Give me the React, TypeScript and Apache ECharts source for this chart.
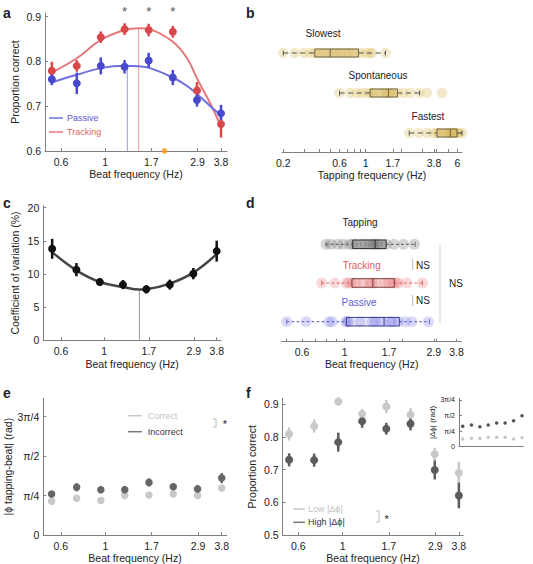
import React, { useEffect, useRef } from 'react';
import * as echarts from 'echarts';

const FONT = '"Liberation Sans", Arial, Helvetica, sans-serif';
const AX = '#808080';
const TXT = '#222';

// ---------- shared ----------
const beatFreqs = [0.54, 0.72, 0.95, 1.25, 1.65, 2.18, 2.88, 3.8];
const beatTickLabels = [0.6, 1, 1.7, 2.9, 3.8];

// ---------- panel a ----------
const passiveMean = [0.760, 0.751, 0.790, 0.788, 0.802, 0.764, 0.714, 0.684];
const passiveErr = [0.013, 0.024, 0.019, 0.015, 0.017, 0.017, 0.015, 0.019];
const trackingMean = [0.779, 0.790, 0.854, 0.872, 0.870, 0.866, 0.735, 0.660];
const trackingErr = [0.020, 0.013, 0.013, 0.013, 0.014, 0.013, 0.019, 0.030];
const fitFreqsA = [0.54, 0.72, 0.95, 1.25, 1.47, 1.65, 2.18, 2.57, 2.88, 3.36, 3.8];
const trackingFit = [0.775, 0.807, 0.848, 0.870, 0.874, 0.872, 0.844, 0.807, 0.762, 0.706, 0.654];
const passiveFit = [0.753, 0.770, 0.785, 0.790, 0.789, 0.786, 0.764, 0.745, 0.727, 0.700, 0.680];
const passivePeak = [1.29, 0.789];
const trackingPeak = [1.47, 0.874];
const orangeMarkFreq = 1.98;
const starFreqs = [1.25, 1.65, 2.18];

// ---------- panel b ----------
const tapRowNames = ['Fastest', 'Spontaneous', 'Slowest'];
// [min, q1, median, q3, max] in Hz
const tapBoxes = [
  [2.34, 4.03, 5.22, 5.95, 6.56],
  [0.60, 1.09, 1.56, 1.86, 2.87],
  [0.20, 0.37, 0.50, 0.87, 1.47],
];
const fastestTaps = [2.34, 2.81, 3.31, 3.77, 4.05, 4.15, 4.58, 4.9, 5.05, 5.22, 5.4, 5.57, 5.8, 5.95, 6.2, 6.56];
const spontaneousTaps = [0.60, 0.74, 0.84, 0.93, 1.03, 1.10, 1.17, 1.33, 1.45, 1.52, 1.60, 1.67, 1.84, 2.10, 2.39, 2.87, 3.31, 4.44];
const slowestTaps = [0.20, 0.25, 0.30, 0.34, 0.37, 0.40, 0.44, 0.48, 0.52, 0.57, 0.61, 0.68, 0.72, 0.80, 0.90, 1.0, 1.08, 1.13, 1.47];
const tapTickLabels = [0.2, 0.6, 1, 1.7, 3.8, 6];
const tapTickMarks = [0.2, 0.3, 0.4, 0.5, 0.6, 0.7, 0.8, 0.9, 1, 1.7, 2, 3, 3.8, 4, 5, 6];

// ---------- panel c ----------
const cvMean = [13.8, 10.65, 8.8, 8.4, 7.7, 8.4, 10.05, 13.45];
const cvErr = [1.5, 1.0, 0.55, 0.68, 0.62, 0.75, 0.85, 1.58];
const cvFitFreqs = [0.54, 0.72, 0.95, 1.25, 1.52, 1.65, 2.18, 2.88, 3.8];
const cvFit = [13.3, 10.55, 8.8, 8.05, 7.65, 7.7, 8.55, 10.2, 13.0];
const cvMin = [1.52, 7.65];

// ---------- panel d ----------
const prefRowNames = ['Passive', 'Tracking', 'Tapping'];
const prefBoxes = [
  [0.50, 1.02, 1.60, 1.92, 2.75],
  [0.76, 1.09, 1.40, 1.81, 2.53],
  [0.80, 1.10, 1.44, 1.64, 2.32],
];
const passivePref = [0.50, 0.63, 0.83, 0.86, 1.01, 1.03, 1.05, 1.20, 1.39, 1.44, 1.55, 1.72, 1.76, 1.90, 2.06, 2.23, 2.72];
const trackingPref = [0.76, 0.89, 1.02, 1.05, 1.09, 1.14, 1.25, 1.35, 1.39, 1.45, 1.62, 1.69, 1.79, 1.85, 1.90, 2.10, 2.53];
const tappingPref = [0.80, 0.85, 0.92, 0.98, 1.06, 1.10, 1.15, 1.22, 1.28, 1.35, 1.40, 1.44, 1.48, 1.55, 1.64, 1.80, 2.02, 2.30];
const prefTickMarks = [0.5, 0.6, 0.7, 0.8, 0.9, 1, 1.7, 2, 2.9, 3, 3.8];

// ---------- panel e ----------
const correctPhase = [0.675, 0.734, 0.687, 0.785, 0.799, 0.819, 0.785, 0.937];
const correctErr = [0.03, 0.03, 0.03, 0.035, 0.03, 0.03, 0.04, 0.06];
const incorrectPhase = [0.818, 0.950, 0.903, 0.903, 1.048, 0.962, 0.917, 1.133];
const incorrectErr = [0.06, 0.08, 0.06, 0.07, 0.08, 0.06, 0.08, 0.1];

// ---------- panel f ----------
const lowDphiCorrect = [0.809, 0.833, 0.908, 0.870, 0.893, 0.868, 0.747, 0.690];
const lowDphiErr = [0.02, 0.02, 0.012, 0.015, 0.02, 0.02, 0.02, 0.034];
const highDphiCorrect = [0.730, 0.729, 0.784, 0.848, 0.825, 0.840, 0.699, 0.621];
const highDphiErr = [0.02, 0.02, 0.029, 0.02, 0.018, 0.02, 0.029, 0.039];
const insetHighDphi = [1.026, 1.093, 1.009, 1.093, 1.194, 1.194, 1.312, 1.564];
const insetLowDphi = [0.387, 0.42, 0.42, 0.471, 0.471, 0.471, 0.387, 0.454];

const PI = Math.PI;
const piTicks = [0, PI / 4, PI / 2, (3 * PI) / 4];
const piLabels = ['0', 'π/4', 'π/2', '3π/4'];

// ---------- helpers ----------
const ln = Math.log;

function lnFmt(labels: number[]) {
  return (v: number) => {
    const m = labels.find((l) => Math.abs(ln(l) - v) < 1e-6);
    return m === undefined ? '' : String(m);
  };
}

const labelStyle = { color: TXT, fontSize: 10.5, fontFamily: FONT };

function xLogAxis(gridIndex: number, min: number, max: number, labels: number[], marks: number[], name: string, nameGap: number) {
  return {
    type: 'value', gridIndex, min, max,
    axisLine: { show: true, onZero: false, lineStyle: { color: AX, width: 1 } },
    axisTick: { show: marks.length > 0, inside: true, length: 3, customValues: marks.map(ln), lineStyle: { color: AX } },
    axisLabel: { show: labels.length > 0, customValues: labels.map(ln), formatter: lnFmt(labels), margin: 5, ...labelStyle },
    splitLine: { show: false },
    name, nameLocation: 'middle', nameGap,
    nameTextStyle: { ...labelStyle },
  };
}

function yAxisCfg(gridIndex: number, min: number, max: number, values: number[], fmt: (v: number) => string, name: string, nameGap: number, fontSize = 10.5) {
  return {
    type: 'value', gridIndex, min, max,
    axisLine: { show: true, onZero: false, lineStyle: { color: AX, width: 1 } },
    axisTick: { show: true, inside: true, length: 3, customValues: values, lineStyle: { color: AX } },
    axisLabel: { customValues: values, formatter: fmt, margin: 4, ...labelStyle, fontSize },
    splitLine: { show: false },
    name, nameLocation: 'middle', nameGap, nameRotate: 90,
    nameTextStyle: { ...labelStyle, fontSize: fontSize < 10 ? 8 : 10.5 },
  };
}

function hiddenY(gridIndex: number, min: number, max: number) {
  return { type: 'value', gridIndex, min, max, show: false, splitLine: { show: false } };
}

function errSeries(idx: number, means: number[], errs: number[], color: string, width = 2.5) {
  return {
    type: 'custom', xAxisIndex: idx, yAxisIndex: idx, silent: true, z: 3,
    data: beatFreqs.map((f, i) => [ln(f), means[i] - errs[i], means[i] + errs[i]]),
    encode: { x: 0, y: [1, 2] },
    renderItem: (_p: any, api: any) => {
      const a = api.coord([api.value(0), api.value(1)]);
      const b = api.coord([api.value(0), api.value(2)]);
      return { type: 'line', shape: { x1: a[0], y1: a[1], x2: b[0], y2: b[1] }, style: { stroke: color, lineWidth: width } };
    },
  };
}

function pointSeries(idx: number, means: number[], color: string, size = 8, xs = beatFreqs) {
  return {
    type: 'scatter', xAxisIndex: idx, yAxisIndex: idx, silent: true, z: 4,
    symbolSize: size, itemStyle: { color, opacity: 1 },
    data: xs.map((f, i) => [ln(f), means[i]]),
  };
}

function fitSeries(idx: number, xs: number[], ys: number[], color: string, width: number) {
  return {
    type: 'line', xAxisIndex: idx, yAxisIndex: idx, silent: true, smooth: 0.4, symbol: 'none', z: 2,
    lineStyle: { color, width },
    data: xs.map((f, i) => [ln(f), ys[i]]),
  };
}

function vLine(idx: number, f: number, y0: number, y1: number, color: string) {
  return {
    type: 'line', xAxisIndex: idx, yAxisIndex: idx, silent: true, symbol: 'none', z: 1,
    lineStyle: { color, width: 1 },
    data: [[ln(f), y0], [ln(f), y1]],
  };
}

type BoxStyle = { fill: string; stroke: string; whisker: string; dash: number[] };

function boxSeries(idx: number, boxes: number[][], styles: BoxStyle[], h: number) {
  return {
    type: 'custom', xAxisIndex: idx, yAxisIndex: idx, silent: true, z: 3,
    data: boxes.map((b, i) => [i + 1, ...b.map(ln)]),
    encode: { x: [1, 2, 3, 4, 5], y: 0 },
    renderItem: (params: any, api: any) => {
      const row = api.value(0);
      const pMin = api.coord([api.value(1), row]);
      const y = pMin[1];
      const xMin = pMin[0];
      const xQ1 = api.coord([api.value(2), row])[0];
      const xMed = api.coord([api.value(3), row])[0];
      const xQ3 = api.coord([api.value(4), row])[0];
      const xMax = api.coord([api.value(5), row])[0];
      const st = styles[params.dataIndex];
      return {
        type: 'group',
        children: [
          { type: 'line', shape: { x1: xMin, y1: y, x2: xQ1, y2: y }, style: { stroke: st.whisker, lineWidth: 1.2, lineDash: st.dash } },
          { type: 'line', shape: { x1: xQ3, y1: y, x2: xMax, y2: y }, style: { stroke: st.whisker, lineWidth: 1.2, lineDash: st.dash } },
          { type: 'line', shape: { x1: xMin, y1: y - 2.5, x2: xMin, y2: y + 2.5 }, style: { stroke: st.whisker, lineWidth: 1 } },
          { type: 'line', shape: { x1: xMax, y1: y - 2.5, x2: xMax, y2: y + 2.5 }, style: { stroke: st.whisker, lineWidth: 1 } },
          { type: 'rect', shape: { x: xQ1, y: y - h / 2, width: xQ3 - xQ1, height: h }, style: { fill: st.fill, stroke: st.stroke, lineWidth: 1 } },
          { type: 'line', shape: { x1: xMed, y1: y - h / 2, x2: xMed, y2: y + h / 2 }, style: { stroke: st.stroke, lineWidth: 1 } },
        ],
      };
    },
  };
}

function dotSeries(idx: number, values: number[], row: number, color: string, size = 10) {
  return {
    type: 'scatter', xAxisIndex: idx, yAxisIndex: idx, silent: true, z: 2,
    symbolSize: size, itemStyle: { color },
    data: values.map((v) => [ln(v), row]),
  };
}

function txt(x: number, y: number, text: string, opts: any = {}) {
  return {
    type: 'text', x, y, silent: true,
    style: {
      text, fontFamily: FONT, fontSize: opts.fontSize ?? 10.5, fontWeight: opts.fontWeight ?? 'normal',
      fill: opts.fill ?? TXT, align: opts.align ?? 'left', verticalAlign: 'middle',
    },
  };
}

function seg(x1: number, y1: number, x2: number, y2: number, stroke: string, lineWidth = 1) {
  return { type: 'line', silent: true, shape: { x1, y1, x2, y2 }, style: { stroke, lineWidth } };
}

function bracket(x: number, y1: number, y2: number, stroke: string) {
  return { type: 'polyline', silent: true, shape: { points: [[x - 3, y1], [x, y1], [x, y2], [x - 3, y2]] }, style: { stroke, lineWidth: 1, fill: 'none' } };
}

const RED = '#d9474b';
const RED_FIT = '#e47878';
const BLUE = '#4848d0';
const BLUE_FIT = '#7070dc';
const LIGHT = '#c9c9c9';
const DARK = '#5c5c5c';

function buildOption() {
  const grids = [
    { left: 45, top: 13, width: 182, height: 138 },
    { left: 282, top: 13, width: 180, height: 139 },
    { left: 43.3, top: 205.7, width: 177.7, height: 134.6 },
    { left: 281.7, top: 205, width: 180, height: 136.7 },
    { left: 43.3, top: 398.3, width: 183.4, height: 138.4 },
    { left: 282.7, top: 398.3, width: 180.6, height: 138.4 },
    { left: 459, top: 398.3, width: 64.3, height: 48.4 },
  ];

  const xAxes = [
    xLogAxis(0, -0.695, 1.404, beatTickLabels, beatTickLabels, 'Beat frequency (Hz)', 17),
    xLogAxis(1, -1.635, 1.881, tapTickLabels, tapTickMarks, 'Tapping frequency (Hz)', 17),
    xLogAxis(2, -0.721, 1.386, beatTickLabels, beatTickLabels, 'Beat frequency (Hz)', 18),
    xLogAxis(3, -0.753, 1.398, beatTickLabels, prefTickMarks, 'Beat frequency (Hz)', 17),
    xLogAxis(4, -0.711, 1.392, beatTickLabels, beatTickLabels, 'Beat frequency (Hz)', 16),
    xLogAxis(5, -0.690, 1.386, beatTickLabels, beatTickLabels, 'Beat frequency (Hz)', 15),
    { ...xLogAxis(6, -0.738, 1.378, [], [], '', 0), axisTick: { show: false }, axisLabel: { show: false } },
  ];

  const fix1 = (v: number) => v.toFixed(1);
  const piFmt = (v: number) => {
    const i = piTicks.findIndex((t) => Math.abs(t - v) < 1e-6);
    return i < 0 ? '' : piLabels[i];
  };

  const yAxes = [
    yAxisCfg(0, 0.6, 0.908, [0.6, 0.7, 0.8, 0.9], fix1, 'Proportion correct', 25),
    hiddenY(1, 0.525, 4.0),
    yAxisCfg(2, 0, 20.3, [0, 5, 10, 15, 20], (v) => String(Math.round(v)), 'Coefficient of variation (%)', 23),
    hiddenY(3, 0.483, 4.015),
    yAxisCfg(4, 0, 2.72, piTicks, piFmt, '|ϕ tapping-beat| (rad)', 25),
    yAxisCfg(5, 0.5, 0.918, [0.5, 0.6, 0.7, 0.8, 0.9], fix1, 'Proportion correct', 25),
    yAxisCfg(6, 0, 2.44, piTicks, piFmt, '|Δϕ| (rad)', 17, 7),
  ];

  const tapStyle: BoxStyle = { fill: 'rgba(205,170,65,0.3)', stroke: '#6f6244', whisker: '#555', dash: [5, 3.5] };
  const prefStyles: BoxStyle[] = [
    { fill: 'rgba(110,110,220,0.12)', stroke: '#3c3c8c', whisker: '#6a6ad8', dash: [2.5, 2.5] },
    { fill: 'rgba(225,110,110,0.12)', stroke: '#7a3c3c', whisker: '#d86060', dash: [2.5, 2.5] },
    { fill: 'rgba(80,80,80,0.15)', stroke: '#333', whisker: '#666', dash: [2.5, 2.5] },
  ];

  const series: any[] = [
    // a
    fitSeries(0, fitFreqsA, trackingFit, RED_FIT, 2),
    fitSeries(0, fitFreqsA, passiveFit, BLUE_FIT, 2),
    vLine(0, passivePeak[0], 0.6, passivePeak[1], '#9a9ae6'),
    vLine(0, trackingPeak[0], 0.6, trackingPeak[1], '#e89a9a'),
    errSeries(0, trackingMean, trackingErr, RED),
    errSeries(0, passiveMean, passiveErr, BLUE),
    pointSeries(0, trackingMean, RED),
    pointSeries(0, passiveMean, BLUE),
    {
      type: 'scatter', xAxisIndex: 0, yAxisIndex: 0, silent: true, clip: false, z: 5,
      symbolSize: 6, itemStyle: { color: '#f39a1a' }, data: [[ln(orangeMarkFreq), 0.6]],
    },
    {
      type: 'scatter', xAxisIndex: 0, yAxisIndex: 0, silent: true, clip: false, symbolSize: 0,
      data: starFreqs.map((f) => [ln(f), 0.912]),
      label: { show: true, position: 'inside', formatter: '*', fontSize: 13, color: TXT, fontFamily: FONT },
    },
    // b
    dotSeries(1, fastestTaps, 1, 'rgba(220,192,100,0.42)', 10.5),
    dotSeries(1, spontaneousTaps, 2, 'rgba(220,192,100,0.42)', 10.5),
    dotSeries(1, slowestTaps, 3, 'rgba(220,192,100,0.42)', 10.5),
    boxSeries(1, tapBoxes, [tapStyle, tapStyle, tapStyle], 8),
    // c
    fitSeries(2, cvFitFreqs, cvFit, '#454545', 2.5),
    vLine(2, cvMin[0], 0, cvMin[1], '#9a9a9a'),
    errSeries(2, cvMean, cvErr, '#111'),
    pointSeries(2, cvMean, '#111'),
    // d
    dotSeries(3, passivePref, 1, 'rgba(100,100,225,0.3)', 11),
    dotSeries(3, trackingPref, 2, 'rgba(228,95,95,0.3)', 11),
    dotSeries(3, tappingPref, 3, 'rgba(90,90,90,0.32)', 11),
    boxSeries(3, prefBoxes, prefStyles, 8.5),
    // e
    errSeries(4, correctPhase, correctErr, LIGHT),
    pointSeries(4, correctPhase, LIGHT, 7.5),
    errSeries(4, incorrectPhase, incorrectErr, '#666'),
    pointSeries(4, incorrectPhase, '#666', 7.5),
    // f
    errSeries(5, lowDphiCorrect, lowDphiErr, LIGHT),
    pointSeries(5, lowDphiCorrect, LIGHT, 8),
    errSeries(5, highDphiCorrect, highDphiErr, DARK),
    pointSeries(5, highDphiCorrect, DARK, 8),
    // f inset
    pointSeries(6, insetLowDphi, LIGHT, 3.5),
    pointSeries(6, insetHighDphi, '#555', 3.5),
  ];

  const graphic: any[] = [
    // panel letters
    txt(3, 13, 'a', { fontSize: 14, fontWeight: 'bold' }),
    txt(246, 13, 'b', { fontSize: 14, fontWeight: 'bold' }),
    txt(3, 203, 'c', { fontSize: 14, fontWeight: 'bold' }),
    txt(246, 203, 'd', { fontSize: 14, fontWeight: 'bold' }),
    txt(3, 393, 'e', { fontSize: 14, fontWeight: 'bold' }),
    txt(246, 393, 'f', { fontSize: 14, fontWeight: 'bold' }),
    // a legend
    seg(49, 118, 63, 118, BLUE_FIT, 1.5),
    txt(67, 118, 'Passive', { fontSize: 9, fill: '#5a5ad2' }),
    seg(49, 132, 63, 132, RED_FIT, 1.5),
    txt(67, 132, 'Tracking', { fontSize: 9, fill: '#e06464' }),
    // b labels
    txt(323, 33, tapRowNames[2], { align: 'center', fontSize: 10 }),
    txt(378, 75, tapRowNames[1], { align: 'center', fontSize: 10 }),
    txt(428, 116, tapRowNames[0], { align: 'center', fontSize: 10 }),
    // d labels
    txt(360, 222.7, prefRowNames[2], { align: 'center', fontSize: 10 }),
    txt(361.7, 265, prefRowNames[1], { align: 'center', fontSize: 10, fill: '#e06060' }),
    txt(359, 302.3, prefRowNames[0], { align: 'center', fontSize: 10, fill: '#5c5cd6' }),
    seg(412.7, 259, 412.7, 270, '#bbb'),
    txt(416, 265, 'NS', { fontSize: 10 }),
    seg(412.7, 295, 412.7, 306, '#bbb'),
    txt(416, 300.5, 'NS', { fontSize: 10 }),
    seg(440, 245, 440, 323, '#ccc'),
    txt(449, 283, 'NS', { fontSize: 10 }),
    // e legend
    seg(128, 415.7, 142, 415.7, LIGHT, 1.5),
    txt(147.7, 415.7, 'Correct', { fontSize: 9, fill: '#c4c4c4' }),
    seg(128, 431.7, 142, 431.7, '#777', 1.5),
    txt(147.7, 431.7, 'Incorrect', { fontSize: 9, fill: '#333' }),
    bracket(216, 419, 427, '#bbb'),
    txt(225, 424, '*', { fontSize: 11, align: 'center' }),
    // f legend
    seg(293.3, 509, 305, 509, LIGHT, 1.5),
    txt(308, 509, 'Low |Δϕ|', { fontSize: 9, fill: '#c4c4c4' }),
    seg(293.3, 522.3, 305, 522.3, '#777', 1.5),
    txt(308, 522.3, 'High |Δϕ|', { fontSize: 9, fill: '#333' }),
    bracket(379, 511, 522, '#bbb'),
    txt(386.7, 518.5, '*', { fontSize: 11, align: 'center' }),
  ];

  return {
    animation: false,
    backgroundColor: '#fff',
    textStyle: { fontFamily: FONT },
    grid: grids.map((g) => ({ ...g, containLabel: false })),
    xAxis: xAxes,
    yAxis: yAxes,
    series,
    graphic,
  };
}

export default function App() {
  const ref = useRef<HTMLDivElement>(null);
  useEffect(() => {
    if (!ref.current) return;
    const chart = echarts.init(ref.current, null, { renderer: 'svg' });
    chart.setOption(buildOption() as any);
    return () => chart.dispose();
  }, []);
  return (
    <div
      ref={ref}
      style={{ position: 'absolute', left: 0, top: 0, width: 533, height: 564, background: '#fff' }}
    />
  );
}
